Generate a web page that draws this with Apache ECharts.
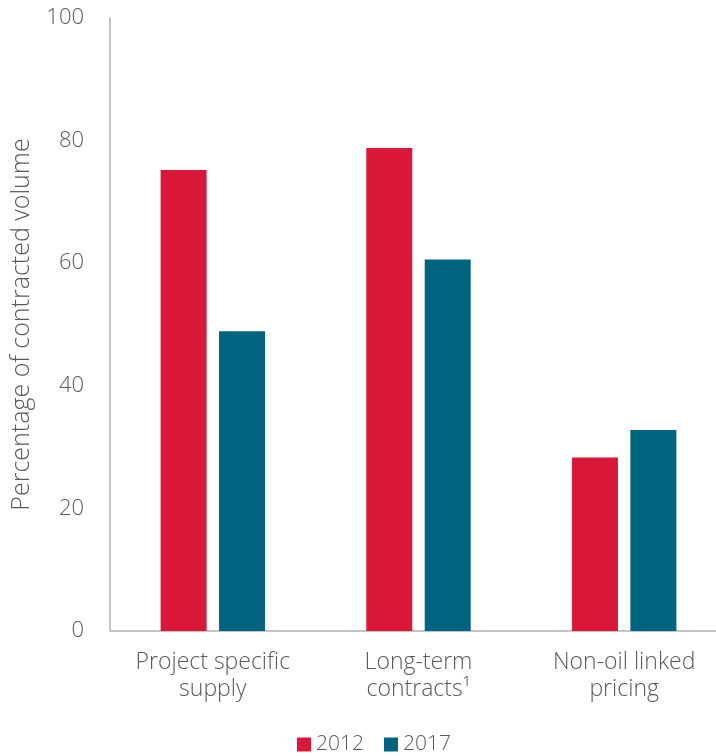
<!DOCTYPE html>
<html>
<head>
<meta charset="utf-8">
<script src="https://cdn.jsdelivr.net/npm/echarts@6/dist/echarts.min.js"></script>
<style>
  html, body { margin: 0; padding: 0; background: #ffffff; }
  #chart { width: 716px; height: 756px; }
</style>
</head>
<body>
<div id="chart"></div>
<script>
// Share of contracted LNG volume by contract feature
const categories = ['Project specific\nsupply', 'Long-term\ncontracts\u00B9', 'Non-oil linked\npricing'];
const seriesNames = ['2012', '2017'];
const values2012 = [75.2, 78.8, 28.3];
const values2017 = [48.9, 60.6, 32.8];
const yTicks = [0, 20, 40, 60, 80, 100];

const textColor = '#5a5a5c';
const fontFamily = '"Open Sans", Lato, sans-serif';

const chart = echarts.init(document.getElementById('chart'), null, { renderer: 'canvas' });

chart.setOption({
  animation: false,
  backgroundColor: '#ffffff',
  textStyle: { fontFamily: fontFamily, color: textColor, fontWeight: 300 },
  grid: {
    left: 110, width: 617, top: 18, height: 613,
    containLabel: false,
    outerBoundsMode: 'none'
  },
  legend: {
    data: seriesNames,
    top: 729,
    left: 292,
    itemWidth: 14,
    itemHeight: 14,
    itemGap: 20,
    icon: 'rect',
    textStyle: { fontSize: 21, color: textColor, fontFamily: fontFamily, fontWeight: 300 }
  },
  xAxis: {
    type: 'category',
    data: categories,
    axisLine: { show: true, lineStyle: { color: '#c4c4c4', width: 2 } },
    axisTick: { show: false },
    axisLabel: {
      margin: 18,
      fontSize: 23,
      lineHeight: 27,
      color: textColor,
      fontFamily: fontFamily,
      fontWeight: 300,
      interval: 0
    }
  },
  yAxis: {
    type: 'value',
    min: yTicks[0],
    max: yTicks[yTicks.length - 1],
    interval: 20,
    name: 'Percentage of contracted volume',
    nameLocation: 'middle',
    nameGap: 76,
    nameTextStyle: { fontSize: 25, color: textColor, fontFamily: fontFamily, fontWeight: 300 },
    axisLine: { show: true, lineStyle: { color: '#c4c4c4', width: 2 } },
    axisTick: { show: false },
    splitLine: { show: false },
    axisLabel: { margin: 26, fontSize: 22, color: textColor, fontFamily: fontFamily, fontWeight: 300 }
  },
  series: [
    {
      name: seriesNames[0],
      type: 'bar',
      data: values2012,
      barWidth: 46,
      barGap: '27%',
      itemStyle: { color: '#d9183a' }
    },
    {
      name: seriesNames[1],
      type: 'bar',
      data: values2017,
      barWidth: 46,
      barGap: '27%',
      itemStyle: { color: '#00637f' }
    }
  ]
});
</script>
</body>
</html>
